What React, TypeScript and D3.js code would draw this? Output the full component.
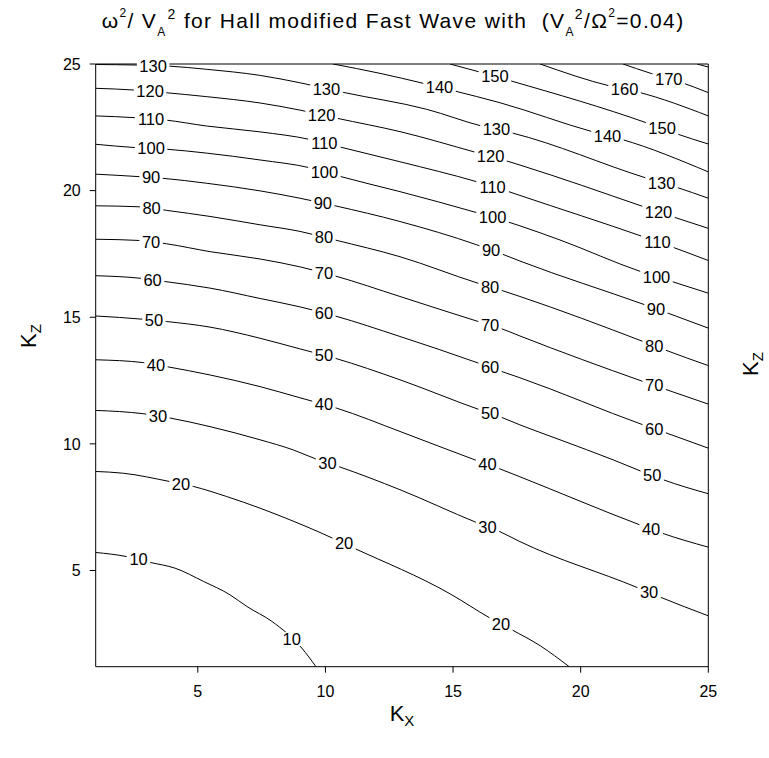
import React from 'react';
import * as d3 from 'd3';

// ---- axes ----
const X_DOMAIN: [number, number] = [1, 25];
const Y_DOMAIN: [number, number] = [1.2, 25];
const X_TICKS = [5, 10, 15, 20, 25];
const Y_TICKS = [5, 10, 15, 20, 25];

// ---- contour lines: [Kx, Kz] ----
const c10 = [[1.00,5.71],[2.21,5.55],[3.13,5.32],[4.11,5.09],[5.22,4.57],[6.26,4.04],[6.92,3.58],[7.90,2.99],[9.07,1.94],[9.63,1.2]];
const c20 = [[1.00,8.91],[2.08,8.84],[3.91,8.51],[4.82,8.32],[6.13,7.92],[7.44,7.46],[8.61,7.00],[9.79,6.50],[11.08,5.90],[14.88,4.08],[16.45,3.12],[17.30,2.66],[18.41,2.03],[19.55,1.2]];
const c30 = [[1.00,11.32],[2.86,11.19],[3.91,11.02],[5.48,10.68],[7.44,10.16],[8.74,9.76],[9.66,9.39],[10.50,9.11],[12.92,8.19],[15.93,6.89],[16.84,6.53],[17.62,6.14],[22.26,4.31],[23.11,3.95],[25.00,3.21]];
const c40 = [[1.00,13.32],[2.86,13.21],[3.78,13.05],[5.48,12.72],[7.44,12.26],[9.00,11.82],[10.44,11.41],[12.92,10.49],[15.93,9.34],[16.84,9.01],[17.62,8.70],[22.32,6.80],[23.17,6.48],[25.00,5.92]];
const c50 = [[1.00,15.05],[2.86,14.92],[3.78,14.83],[5.48,14.61],[7.44,14.17],[9.00,13.75],[10.38,13.38],[12.92,12.53],[16.06,11.34],[16.84,11.07],[17.62,10.75],[19.19,10.16],[21.27,9.37],[22.39,8.91],[23.24,8.58],[25.00,8.03]];
const c60 = [[1.00,16.64],[2.74,16.54],[3.71,16.41],[5.48,16.15],[7.44,15.74],[9.00,15.41],[10.38,15.05],[12.92,14.24],[15.99,13.19],[16.84,12.88],[17.62,12.61],[22.45,10.75],[23.30,10.45],[25.00,9.83]];
const c70 = [[1.00,18.08],[2.74,18.03],[3.78,17.90],[5.48,17.59],[7.44,17.30],[9.00,16.99],[10.38,16.63],[12.92,15.82],[15.99,14.83],[16.84,14.57],[17.62,14.26],[22.45,12.46],[23.30,12.16],[25.00,11.57]];
const c80 = [[1.00,19.40],[2.74,19.36],[3.78,19.22],[5.48,18.98],[7.44,18.65],[9.00,18.39],[10.38,18.05],[12.92,17.39],[15.99,16.34],[16.84,16.08],[17.62,15.82],[22.45,14.04],[23.30,13.71],[25.00,13.09]];
const c90 = [[1.00,20.65],[2.74,20.55],[3.59,20.49],[5.35,20.29],[7.44,19.99],[9.00,19.70],[10.38,19.40],[12.92,18.78],[15.93,17.86],[16.91,17.50],[17.62,17.22],[22.52,15.49],[23.37,15.18],[25.00,14.57]];
const c100 = [[1.00,21.83],[2.54,21.70],[3.71,21.64],[5.35,21.48],[7.44,21.21],[9.40,20.90],[10.50,20.58],[12.92,19.96],[15.93,19.13],[17.10,18.78],[17.62,18.61],[19.19,18.05],[22.36,16.80],[23.57,16.41],[25.00,15.95]];
const c110 = [[1.00,22.95],[2.54,22.88],[3.71,22.79],[5.35,22.55],[7.44,22.32],[9.40,22.02],[10.50,21.74],[12.92,21.14],[15.93,20.35],[17.15,19.97],[17.62,19.81],[22.45,18.18],[23.57,17.78],[25.00,17.24]];
const c120 = [[1.00,24.04],[2.54,23.97],[3.71,23.87],[5.35,23.71],[7.44,23.46],[9.00,23.18],[10.44,22.86],[12.92,22.33],[15.93,21.50],[17.04,21.19],[17.62,21.01],[22.45,19.37],[23.63,18.96],[25.00,18.51]];
const c130 = [[1.00,24.98],[2.54,24.96],[3.83,24.92],[5.35,24.79],[7.44,24.55],[9.00,24.26],[10.70,23.88],[13.97,23.21],[16.12,22.55],[17.30,22.28],[22.59,20.49],[23.76,20.13],[25.00,19.70]];
const c140 = [[10.30,25.0],[12.14,24.63],[13.82,24.24],[15.00,23.95],[16.84,23.47],[20.48,22.32],[21.62,22.02],[25.00,20.74]];
const c150 = [[14.88,25.0],[16.06,24.68],[17.31,24.32],[22.60,22.67],[23.77,22.24],[25.00,21.84]];
const c160 = [[18.41,25.0],[21.15,24.13],[22.25,23.89],[25.00,22.95]];
const c170 = [[21.66,25.0],[22.72,24.64],[23.89,24.29],[25.00,23.87]];
const c180 = [[24.56,25.0],[25.00,24.88]];

// ---- label positions (Kx) along each contour ----
const l10 = [2.68, 8.68];
const l20 = [4.34, 10.73, 16.88];
const l30 = [3.44, 10.08, 16.35, 22.68];
const l40 = [3.36, 9.94, 16.35, 22.76];
const l50 = [3.28, 9.94, 16.45, 22.80];
const l60 = [3.23, 9.94, 16.45, 22.88];
const l70 = [3.17, 9.94, 16.45, 22.88];
const l80 = [3.19, 9.94, 16.45, 22.88];
const l90 = [3.17, 9.90, 16.49, 22.95];
const l100 = [3.17, 9.96, 16.55, 22.97];
const l110 = [3.17, 9.96, 16.55, 23.01];
const l120 = [3.13, 9.85, 16.47, 23.05];
const l130 = [3.25, 10.04, 16.70, 23.17];
const l140 = [14.47, 21.05];
const l150 = [16.64, 23.19];
const l160 = [21.72];
const l170 = [23.45];
const l180: number[] = [];

const LEVELS = [10, 20, 30, 40, 50, 60, 70, 80, 90, 100, 110, 120, 130, 140, 150, 160, 170, 180];
const LINES = [c10, c20, c30, c40, c50, c60, c70, c80, c90, c100, c110, c120, c130, c140, c150, c160, c170, c180];
const LABELS = [l10, l20, l30, l40, l50, l60, l70, l80, l90, l100, l110, l120, l130, l140, l150, l160, l170, l180];

const FONT = 'Liberation Sans, Arial, Helvetica, sans-serif';

function interp(pts: number[][], kx: number): number {
  for (let i = 0; i < pts.length - 1; i++) {
    const a = pts[i], b = pts[i + 1];
    if (kx >= a[0] && kx <= b[0]) {
      const t = (kx - a[0]) / (b[0] - a[0]);
      return a[1] + t * (b[1] - a[1]);
    }
  }
  return pts[pts.length - 1][1];
}

export default function App() {
  const W = 769, H = 758;
  const L = 95.7, R = 708.3, T = 64, B = 666.7;
  const x = d3.scaleLinear().domain(X_DOMAIN).range([L, R]);
  const y = d3.scaleLinear().domain(Y_DOMAIN).range([B, T]);
  const line = d3.line<number[]>().x(d => x(d[0])).y(d => y(d[1])).curve(d3.curveMonotoneX);
  const labFs = 16.5;
  const digitW = 0.556 * labFs;

  return (
    <svg width={W} height={H} style={{ position: 'absolute', left: 0, top: 0, background: '#fff' }}
      fontFamily={FONT}>
      <rect x={0} y={0} width={W} height={H} fill="#fff" />
      <defs>
        <clipPath id="plotclip">
          <rect x={L} y={T} width={R - L} height={B - T} />
        </clipPath>
      </defs>
      {/* contour lines */}
      <g clipPath="url(#plotclip)" fill="none" stroke="#000" strokeWidth={1}>
        {LINES.map((pts, i) => <path key={i} d={line(pts) || ''} />)}
      </g>
      {/* frame */}
      <g stroke="#000" strokeWidth={1} fill="none">
        <line x1={L} y1={T} x2={R} y2={T} />
        <line x1={L} y1={B} x2={R} y2={B} />
        <line x1={L} y1={T} x2={L} y2={B} />
        <line x1={R} y1={T} x2={R} y2={B} />
        {X_TICKS.map(t => <line key={'xt' + t} x1={x(t)} x2={x(t)} y1={B} y2={B + 6} />)}
        {Y_TICKS.map(t => <line key={'yt' + t} x1={L - 6} x2={L} y1={y(t)} y2={y(t)} />)}
      </g>
      {/* contour labels */}
      <g>
        {LABELS.map((ls, i) => ls.map((kx, j) => {
          const cx = x(kx);
          const cy = y(interp(LINES[i], kx));
          const txt = String(LEVELS[i]);
          const w = txt.length * digitW;
          return (
            <g key={i + '-' + j}>
              <rect x={cx - w / 2 - 2.5} y={cy - 7} width={w + 5} height={14} fill="#fff" />
              <text x={cx} y={cy + 0.36 * labFs} textAnchor="middle" fontSize={labFs} fill="#000">{txt}</text>
            </g>
          );
        }))}
      </g>
      {/* tick labels */}
      <g fontSize={16} fill="#000">
        {X_TICKS.map(t => <text key={'xl' + t} x={x(t)} y={B + 30} textAnchor="middle">{t}</text>)}
        {Y_TICKS.map(t => <text key={'yl' + t} x={L - 15} y={y(t) + 5.7} textAnchor="end">{t}</text>)}
      </g>
      {/* axis titles */}
      <text x={(L + R) / 2} y={721} textAnchor="middle" fontSize={22} fill="#000">K<tspan fontSize={15} dy={5}>X</tspan></text>
      <text transform={`translate(36,336) rotate(-90)`} textAnchor="middle" fontSize={22} fill="#000">K<tspan fontSize={15} dy={5}>Z</tspan></text>
      <text transform={`translate(758,364) rotate(-90)`} textAnchor="middle" fontSize={22} fill="#000">K<tspan fontSize={15} dy={5}>Z</tspan></text>
      {/* title */}
      <text x={101.7} y={28} fontSize={21} fill="#000" letterSpacing={1.35} style={{ whiteSpace: 'pre' }}>
        <tspan>ω</tspan>
        <tspan fontSize={12} dy={-11}>2</tspan>
        <tspan fontSize={21} dy={11}>{'/ V'}</tspan>
        <tspan fontSize={12} dy={8}>A</tspan>
        <tspan fontSize={14} dx={1} dy={-17}>2</tspan>
        <tspan fontSize={21} dy={9}>{' for Hall modified Fast Wave with  (V'}</tspan>
        <tspan fontSize={12} dy={8}>A</tspan>
        <tspan fontSize={14} dx={0} dy={-17}>2</tspan>
        <tspan fontSize={21} dy={9}>{'/Ω'}</tspan>
        <tspan fontSize={12} dy={-11}>2</tspan>
        <tspan fontSize={21} dy={11}>{'=0.04)'}</tspan>
      </text>
    </svg>
  );
}
